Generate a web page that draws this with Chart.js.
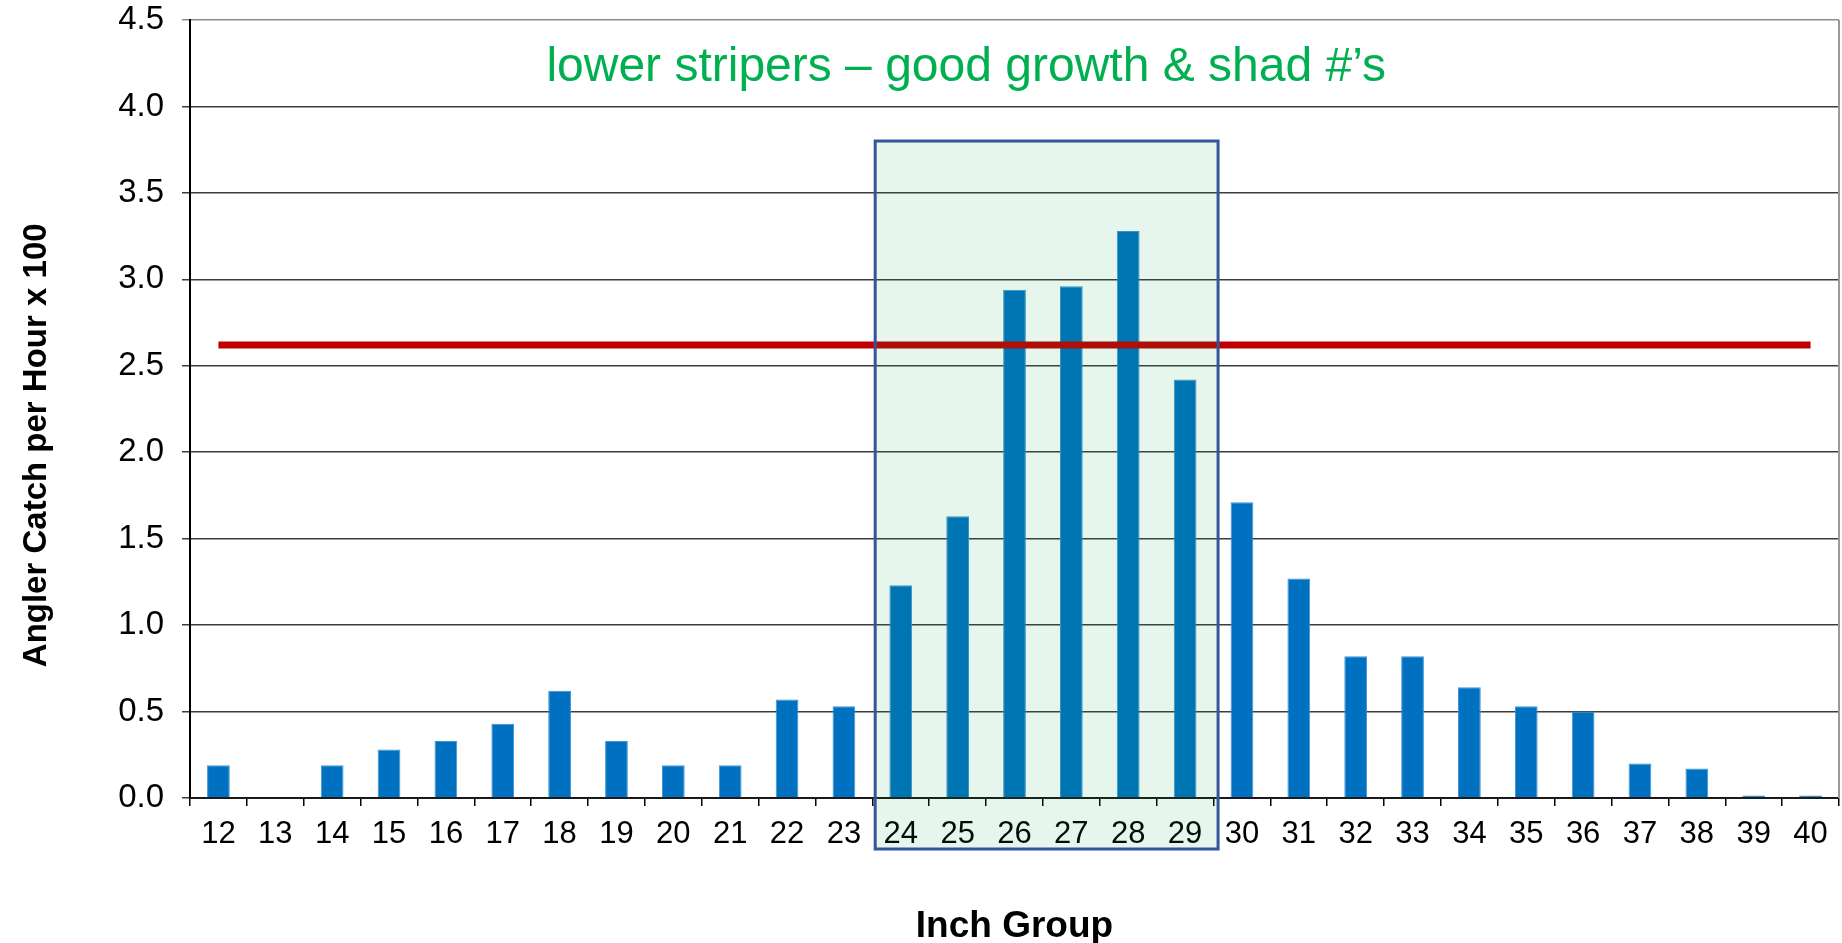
<!DOCTYPE html>
<html>
<head>
<meta charset="utf-8">
<script src="https://cdn.jsdelivr.net/npm/chart.js@4.4.1/dist/chart.umd.min.js"></script>
<style>
  html, body { margin: 0; padding: 0; background: #ffffff; }
  #wrap { width: 1842px; height: 943px; }
</style>
</head>
<body>
<div id="wrap"><canvas id="c" width="1842" height="943"></canvas></div>
<script>
// ---- data ----
const inchGroups = ['12','13','14','15','16','17','18','19','20','21','22','23','24','25','26','27','28','29','30','31','32','33','34','35','36','37','38','39','40'];
const catchPerHour = [0.19, 0, 0.19, 0.28, 0.33, 0.43, 0.62, 0.33, 0.19, 0.19, 0.57, 0.53, 1.23, 1.63, 2.94, 2.96, 3.28, 2.42, 1.71, 1.27, 0.82, 0.82, 0.64, 0.53, 0.50, 0.20, 0.17, 0.015, 0.015];
const averageCatch = 2.62;
const yTicks = [0, 0.5, 1.0, 1.5, 2.0, 2.5, 3.0, 3.5, 4.0, 4.5];
const annotationText = 'lower stripers \u2013 good growth & shad #\u2019s';
const yTitle = 'Angler Catch per Hour x 100';
const xTitle = 'Inch Group';
const highlightFrom = '24', highlightTo = '29';

const FONT = "'Liberation Sans', Arial, sans-serif";

const overlayPlugin = {
  id: 'overlay',
  afterDraw(chart) {
    const { ctx, chartArea, scales } = chart;
    const xs = scales.x, ys = scales.y;
    ctx.save();
    // right border of plot
    ctx.strokeStyle = '#9a9a9a';
    ctx.lineWidth = 2;
    ctx.beginPath();
    ctx.moveTo(chartArea.right, chartArea.top);
    ctx.lineTo(chartArea.right, chartArea.bottom);
    ctx.stroke();
    // y axis title
    ctx.save();
    ctx.translate(37, ys.getPixelForValue(2.04));
    ctx.rotate(-Math.PI / 2);
    ctx.fillStyle = '#000';
    ctx.font = "bold 33px " + FONT;
    ctx.textAlign = 'center';
    ctx.textBaseline = 'middle';
    ctx.fillText(yTitle, 0, 0);
    ctx.restore();
    // annotation text
    ctx.fillStyle = '#00B050';
    ctx.font = "48px " + FONT;
    ctx.textAlign = 'center';
    ctx.textBaseline = 'alphabetic';
    ctx.fillText(annotationText, xs.getPixelForValue(13.15), ys.getPixelForValue(4.15));
    // highlight box
    const i0 = inchGroups.indexOf(highlightFrom), i1 = inchGroups.indexOf(highlightTo);
    const left = xs.getPixelForValue(i0 - 0.45);
    const right = xs.getPixelForValue(i1 + 0.58);
    const top = ys.getPixelForValue(3.8);
    const bottom = ys.getPixelForValue(-0.295);
    ctx.fillStyle = 'rgba(0,160,60,0.098)';
    ctx.fillRect(left, top, right - left, bottom - top);
    ctx.strokeStyle = '#34559A';
    ctx.lineWidth = 3;
    ctx.strokeRect(left, top, right - left, bottom - top);
    ctx.restore();
  }
};

new Chart(document.getElementById('c'), {
  data: {
    labels: inchGroups,
    datasets: [
      {
        type: 'line',
        data: [{ x: inchGroups[0], y: averageCatch }, { x: inchGroups[inchGroups.length - 1], y: averageCatch }],
        borderColor: '#C00000',
        borderWidth: 7,
        pointRadius: 0,
        fill: false,
        order: 0
      },
      {
        type: 'bar',
        data: catchPerHour,
        backgroundColor: '#0070C0',
        borderColor: '#3E93D4',
        borderWidth: 1,
        barPercentage: 0.4,
        categoryPercentage: 1.0,
        order: 1
      }
    ]
  },
  options: {
    responsive: false,
    animation: false,
    devicePixelRatio: 1,
    layout: { padding: { left: 15, right: 3, top: 0, bottom: 0 } },
    plugins: { legend: { display: false }, tooltip: { enabled: false } },
    scales: {
      x: {
        type: 'category',
        offset: true,
        grid: { display: true, drawOnChartArea: false, drawTicks: true, tickLength: 8, color: '#000', lineWidth: 1.5, offset: true },
        border: { display: true, color: '#1a1a1a', width: 2 },
        ticks: { color: '#000', font: { family: FONT, size: 31 }, padding: 10, maxRotation: 0, autoSkip: false },
        title: { display: true, text: xTitle, color: '#000', font: { family: FONT, size: 37, weight: 'bold', lineHeight: 0.9 }, padding: { top: 0, bottom: 0 } },
        afterFit(scale) { scale.height = 145; }
      },
      y: {
        min: 0, max: 4.5,
        afterBuildTicks(scale) { scale.ticks = yTicks.map(v => ({ value: v })); },
        grid: {
          color: (c) => (c.tick && c.tick.value === 4.5) ? '#8c8c8c' : '#3c3c3c',
          lineWidth: 1.5, tickLength: 8, drawTicks: true
        },
        border: { display: true, color: '#000', width: 2 },
        ticks: { color: '#000', font: { family: FONT, size: 33 }, padding: 18, callback: (v) => Number(v).toFixed(1) },
        title: { display: false },
        afterFit(scale) { scale.width = 175; scale.paddingTop = 20; scale.paddingBottom = 0; }
      }
    }
  },
  plugins: [overlayPlugin]
});
</script>
</body>
</html>
